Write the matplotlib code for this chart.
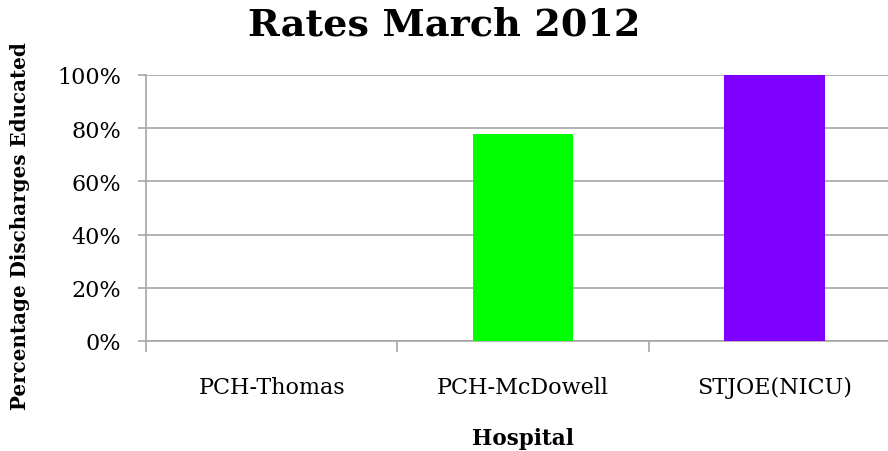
import matplotlib.pyplot as plt
import numpy as np
from matplotlib.ticker import PercentFormatter

# Data
hospitals = ['PCH-Thomas', 'PCH-McDowell', 'STJOE(NICU)']
rates = [0, 78, 100]
bar_colors = ['#00ff00', '#00ff00', '#8000ff']

plt.rcParams['font.family'] = ['DejaVu Serif']

fig = plt.figure(figsize=(8.88, 4.52), dpi=100)
ax = fig.add_axes([0.1644, 0.2434, 0.849, 0.5885])

x = np.arange(len(hospitals))
ax.bar(x, rates, 0.4, color=bar_colors, zorder=3)

ax.set_xlim(-0.5, 2.5)
ax.set_ylim(0, 100)
ax.set_yticks(np.arange(0, 101, 20))
ax.yaxis.set_major_formatter(PercentFormatter(decimals=0))
ax.grid(axis='y', color='#a6a6a6', linewidth=1.2, zorder=0)

# category labels at centers, tick marks at boundaries
ax.set_xticks(x)
ax.set_xticklabels(hospitals, fontsize=16)
ax.set_xticks(np.arange(-0.5, 3, 1), minor=True)
ax.tick_params(axis='x', which='major', length=0, pad=25)
ax.tick_params(axis='x', which='minor', length=8, color='#a6a6a6', width=1.2)
ax.tick_params(axis='y', length=6, color='#a6a6a6', width=1.2, labelsize=16, pad=12)

for s in ['top', 'right']:
    ax.spines[s].set_visible(False)
for s in ['left', 'bottom']:
    ax.spines[s].set_color('#a6a6a6')
    ax.spines[s].set_linewidth(1.2)

ax.set_xlabel('Hospital', fontsize=15.5, fontweight='bold', labelpad=21)
fig.text(0.023, 0.5, 'Percentage Discharges Educated', rotation=90,
         fontsize=14.3, fontweight='bold', ha='center', va='center')
fig.text(0.5, 0.945, 'Rates March 2012', fontsize=27.5, fontweight='bold',
         ha='center', va='center')

plt.savefig('out.png')
